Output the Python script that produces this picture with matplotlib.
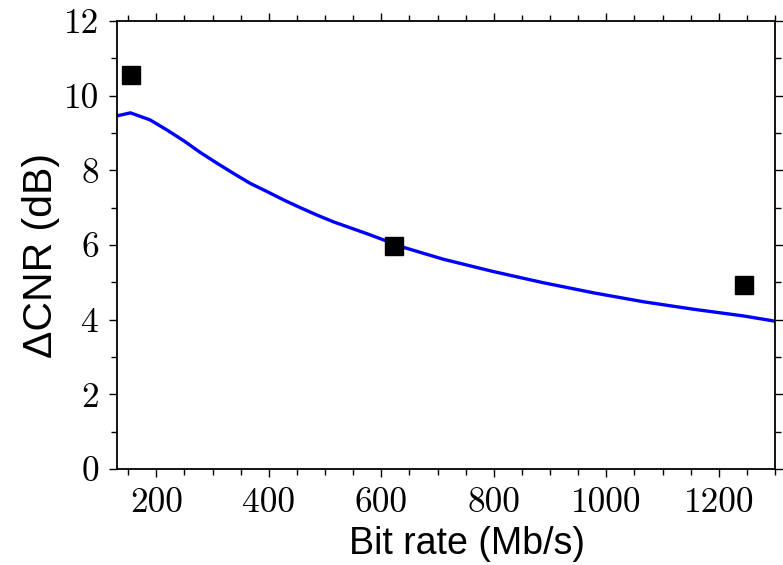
import matplotlib
matplotlib.use("Agg")
import matplotlib.pyplot as plt
from matplotlib.ticker import MultipleLocator

# measured points (bit rate in Mb/s, delta CNR in dB)
rate_meas = [155, 622, 1244]
dcnr_meas = [10.55, 5.97, 4.93]

# calculated curve
rate_calc = [130, 154, 189, 219, 249, 278, 308, 337, 367, 397, 426, 456,
             486, 515, 545, 575, 639, 710, 799, 888, 977, 1066, 1155,
             1244, 1300]
dcnr_calc = [9.46, 9.54, 9.35, 9.08, 8.79, 8.48, 8.19, 7.92, 7.65, 7.43,
             7.21, 7.00, 6.80, 6.62, 6.46, 6.30, 5.94, 5.62, 5.29, 4.99,
             4.72, 4.48, 4.28, 4.10, 3.96]

fig = plt.figure(figsize=(7.83, 5.65), dpi=100)
ax = fig.add_axes([0.1494, 0.1699, 0.8404, 0.7929])

ax.plot(rate_calc, dcnr_calc, color="#0000ff", lw=2.4, zorder=2,
        solid_joinstyle="round")
ax.plot(rate_meas, dcnr_meas, ls="none", marker="s", ms=13,
        color="black", zorder=3)

ax.set_xlim(130, 1300)
ax.set_ylim(0, 12)
ax.xaxis.set_major_locator(MultipleLocator(200))
ax.xaxis.set_minor_locator(MultipleLocator(50))
ax.yaxis.set_major_locator(MultipleLocator(2))
ax.yaxis.set_minor_locator(MultipleLocator(1))

ax.tick_params(which="both", direction="out", top=True, right=True,
               width=1.0, color="black")
ax.tick_params(which="major", length=6, pad=7)
ax.tick_params(which="minor", length=4)
for lab in ax.get_xticklabels() + ax.get_yticklabels():
    lab.set_fontfamily("cmr10")
    lab.set_fontsize(25.5)

for sp in ax.spines.values():
    sp.set_linewidth(1.3)

ax.set_xlabel("Bit rate (Mb/s)", fontfamily="Liberation Sans", fontsize=27)
ax.set_ylabel("ΔCNR (dB)", fontfamily="Liberation Sans", fontsize=29.5)
ax.xaxis.set_label_coords(0.532, -0.128)
ax.yaxis.set_label_coords(-0.087, 0.477)

fig.savefig("out.png", dpi=100)
